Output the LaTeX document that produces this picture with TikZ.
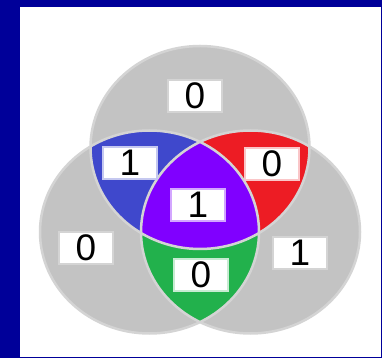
\documentclass[tikz,border=0pt]{standalone}
\usepackage{fontspec}
\setmainfont{Liberation Sans}
\usetikzlibrary{positioning}
\usepackage{xcolor}
\definecolor{frame}{RGB}{0,0,153}
\definecolor{disk}{RGB}{195,195,195}
\definecolor{rim}{RGB}{212,212,212}
\definecolor{setblue}{RGB}{63,72,204}
\definecolor{setred}{RGB}{237,28,36}
\definecolor{setgreen}{RGB}{34,177,76}
\definecolor{setpurple}{RGB}{128,0,255}
\newcommand\topring{(200,210.5) ellipse [x radius=109.5,y radius=101.5]}
\newcommand\leftring{(149.5,126) ellipse [x radius=109.5,y radius=101.5]}
\newcommand\rightring{(250.5,126) ellipse [x radius=109.5,y radius=101.5]}

\begin{document}
\begin{tikzpicture}[x=1pt,y=1pt,
    lbl/.style={fill=white,draw=#1,line width=1.5pt,minimum width=54pt,minimum height=32pt,inner sep=0pt,font=\fontsize{37}{37}\selectfont},
    lbl/.default=rim,
]
\fill[frame] (0,0) rectangle (382,358);
\useasboundingbox (0,0) rectangle (382,358);
\fill[white] (20,1) rectangle (381,351);
% gray sets
\fill[disk] \topring;
\fill[disk] \leftring;
\fill[disk] \rightring;
% overlaps
\begin{scope}
  \clip \topring; \clip \leftring;
  \fill[setblue] (0,0) rectangle (382,358);
\end{scope}
\begin{scope}
  \clip \topring; \clip \rightring;
  \fill[setred] (0,0) rectangle (382,358);
\end{scope}
\begin{scope}
  \clip \leftring; \clip \rightring;
  \fill[setgreen] (0,0) rectangle (382,358);
\end{scope}
\begin{scope}
  \clip \topring; \clip \leftring; \clip \rightring;
  \fill[setpurple] (0,0) rectangle (382,358);
\end{scope}
\draw[rim,line width=2.5pt] \topring \leftring \rightring;
% region values
\node[lbl]                  (top)    at (195,262) {0};
\node[lbl=setblue!30]       (tl)     at (130,195) {1};
\node[lbl=setred!25]        (tr)     at (272,194) {0};
\node[lbl=setpurple!35]     (mid)    at (198,153) {1};
\node[lbl]                  (left)   at (86,110)  {0};
\node[lbl=setgreen!25]      (bottom) at (201,83)  {0};
\node[lbl]                  (right)  at (300,105) {1};
\end{tikzpicture}
\end{document}
